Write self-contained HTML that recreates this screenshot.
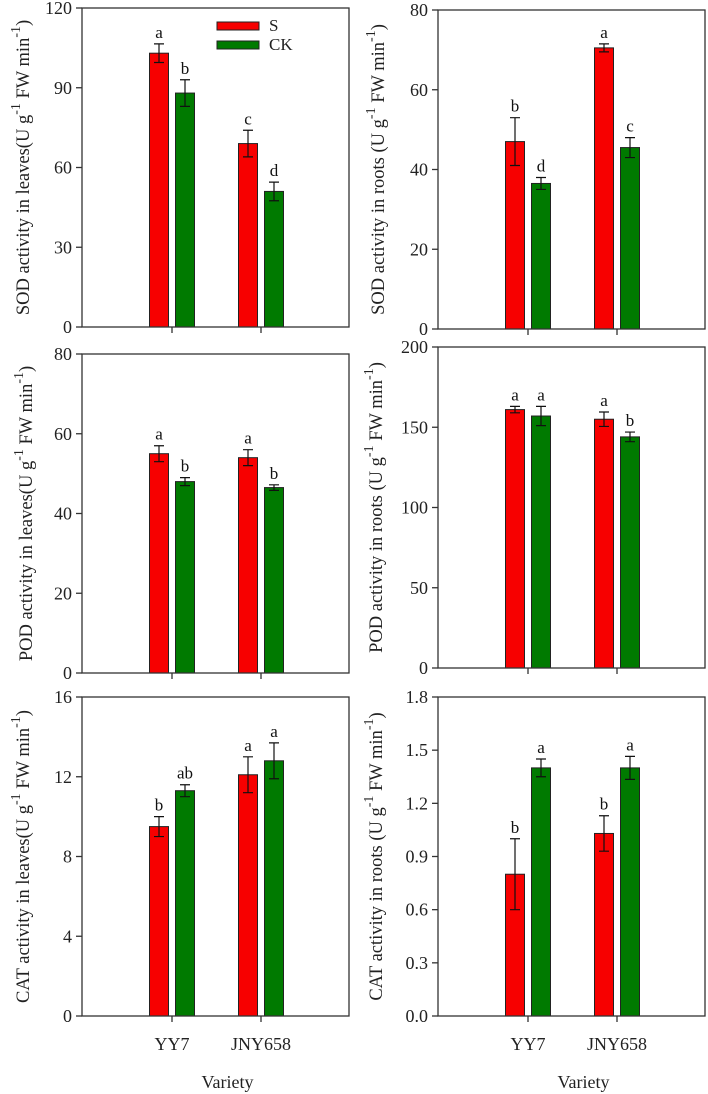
<!DOCTYPE html>
<html><head><meta charset="utf-8"><style>
html,body{margin:0;padding:0;background:#fff}
svg{display:block;font-family:"Liberation Serif",serif}
</style></head><body>
<svg id="fig" width="708" height="1094" viewBox="0 0 708 1094" xmlns="http://www.w3.org/2000/svg"></svg>
<script>
const categories = ["YY7","JNY658"];
const sodLeavesS = [103,69], sodLeavesSErr=[3.5,5], sodLeavesCK=[88,51], sodLeavesCKErr=[5,3.5];
const sodLeavesSLetters=["a","c"], sodLeavesCKLetters=["b","d"];
const sodRootsS=[47,70.5], sodRootsSErr=[6,1], sodRootsCK=[36.5,45.5], sodRootsCKErr=[1.5,2.5];
const sodRootsSLetters=["b","a"], sodRootsCKLetters=["d","c"];
const podLeavesS=[55,54], podLeavesSErr=[2,2], podLeavesCK=[48,46.5], podLeavesCKErr=[1,0.7];
const podLeavesSLetters=["a","a"], podLeavesCKLetters=["b","b"];
const podRootsS=[161,155], podRootsSErr=[2,4.5], podRootsCK=[157,144], podRootsCKErr=[6,3];
const podRootsSLetters=["a","a"], podRootsCKLetters=["a","b"];
const catLeavesS=[9.5,12.1], catLeavesSErr=[0.5,0.9], catLeavesCK=[11.3,12.8], catLeavesCKErr=[0.3,0.9];
const catLeavesSLetters=["b","a"], catLeavesCKLetters=["ab","a"];
const catRootsS=[0.8,1.03], catRootsSErr=[0.2,0.1], catRootsCK=[1.4,1.4], catRootsCKErr=[0.05,0.065];
const catRootsSLetters=["b","b"], catRootsCKLetters=["a","a"];
const ticksSodLeaves=["0","30","60","90","120"];
const ticksSodRoots=["0","20","40","60","80"];
const ticksPodLeaves=["0","20","40","60","80"];
const ticksPodRoots=["0","50","100","150","200"];
const ticksCatLeaves=["0","4","8","12","16"];
const ticksCatRoots=["0.0","0.3","0.6","0.9","1.2","1.5","1.8"];

const NS="http://www.w3.org/2000/svg";
const svg=document.getElementById('fig');
function mk(tag,attrs,parent){const e=document.createElementNS(NS,tag);for(const k in attrs)e.setAttribute(k,attrs[k]);(parent||svg).appendChild(e);return e;}

function panel(o){
  const g=mk('g',{});
  
  
  const L=o.x0,R=o.x1,T=o.y0,B=o.y1;
  const ymax=parseFloat(o.ticks[o.ticks.length-1]);
  const y=v=>B-(v/ymax)*(B-T);
  const cx=i=>L+90+i*89;
  [[o.s,o.se,o.sl,'#f70000',-13,'s'],[o.ck,o.cke,o.ckl,'#007a00',13,'ck']].forEach(([vals,errs,lets,col,off,key])=>{
    vals.forEach((v,i)=>{
      const c=cx(i)+off;
      const r=mk('rect',{x:c-9.5,y:y(v),width:19,height:B-y(v),fill:col,stroke:'#222','stroke-width':1},g);
      
      
      const e=errs[i];
      const eb=mk('path',{d:`M${c},${y(v+e)}V${y(v-e)}M${c-5},${y(v+e)}H${c+5}M${c-5},${y(v-e)}H${c+5}`,stroke:'#111','stroke-width':1.2,fill:'none'},g);
      
      
      const t=mk('text',{x:c,y:y(v+e)-6,'text-anchor':'middle','font-size':17,fill:'#111'},g);
      t.textContent=lets[i];
      
      
    });
  });
  const fr=mk('rect',{x:L,y:T,width:R-L,height:B-T,fill:'none',stroke:'#333','stroke-width':1.3},g);
  
  
  o.ticks.forEach(tk=>{
    const yy=y(parseFloat(tk));
    mk('line',{x1:L-6,x2:L,y1:yy,y2:yy,stroke:'#333','stroke-width':1.3},g);
    const t=mk('text',{x:L-10,y:yy+6,'text-anchor':'end','font-size':18,fill:'#222'},g);
    t.textContent=tk;
    
    
  });
  categories.forEach((c,i)=>{
    mk('line',{x1:cx(i),x2:cx(i),y1:B,y2:B+6,stroke:'#333','stroke-width':1.3},g);
    if(o.xlabels){
      const t=mk('text',{x:cx(i),y:1050,'text-anchor':'middle','font-size':18,fill:'#222'},g);
      t.textContent=c;
      
      
    }
  });
  if(o.xlabels){
    const t=mk('text',{x:(L+R)/2+12,y:1088,'text-anchor':'middle','font-size':18,fill:'#222'},g);
    t.textContent='Variety';
    
    
  }
  const ty=mk('text',{transform:`translate(${o.tx},${(T+B)/2}) rotate(-90)`,'text-anchor':'middle','font-size':18.5,fill:'#222'},g);
  
  
  ty.innerHTML=o.title+'(U g<tspan dy="-9" font-size="14">-1</tspan><tspan dy="9"> FW min</tspan><tspan dy="-9" font-size="14">-1</tspan><tspan dy="9">)</tspan>';
}
panel({name:'sod-leaves-panel',x0:82,x1:349,y0:8,y1:327,ticks:ticksSodLeaves,s:sodLeavesS,se:sodLeavesSErr,ck:sodLeavesCK,cke:sodLeavesCKErr,sl:sodLeavesSLetters,ckl:sodLeavesCKLetters,tx:29,title:'SOD activity in leaves'});
panel({name:'sod-roots-panel',x0:438,x1:705,y0:10,y1:329,ticks:ticksSodRoots,s:sodRootsS,se:sodRootsSErr,ck:sodRootsCK,cke:sodRootsCKErr,sl:sodRootsSLetters,ckl:sodRootsCKLetters,tx:384,title:'SOD activity in roots '});
panel({name:'pod-leaves-panel',x0:82,x1:349,y0:354,y1:673,ticks:ticksPodLeaves,s:podLeavesS,se:podLeavesSErr,ck:podLeavesCK,cke:podLeavesCKErr,sl:podLeavesSLetters,ckl:podLeavesCKLetters,tx:32,title:'POD activity in leaves'});
panel({name:'pod-roots-panel',x0:438,x1:705,y0:347,y1:668,ticks:ticksPodRoots,s:podRootsS,se:podRootsSErr,ck:podRootsCK,cke:podRootsCKErr,sl:podRootsSLetters,ckl:podRootsCKLetters,tx:382,title:'POD activity in roots '});
panel({name:'cat-leaves-panel',x0:82,x1:349,y0:697,y1:1016,ticks:ticksCatLeaves,s:catLeavesS,se:catLeavesSErr,ck:catLeavesCK,cke:catLeavesCKErr,sl:catLeavesSLetters,ckl:catLeavesCKLetters,tx:29,title:'CAT activity in leaves',xlabels:true});
panel({name:'cat-roots-panel',x0:438,x1:705,y0:697,y1:1016,ticks:ticksCatRoots,s:catRootsS,se:catRootsSErr,ck:catRootsCK,cke:catRootsCKErr,sl:catRootsSLetters,ckl:catRootsCKLetters,tx:382,title:'CAT activity in roots ',xlabels:true});
const lg=mk('g',{});


[['S','#f70000',22],['CK','#007a00',41]].forEach(([lab,col,yy])=>{
  const r=mk('rect',{x:217,y:yy,width:42,height:8,fill:col,stroke:'#222','stroke-width':1},lg);
  
  
  const t=mk('text',{x:269,y:yy+9,'font-size':17,fill:'#222'},lg);
  t.textContent=lab;
  
  
});
</script>
</body></html>
